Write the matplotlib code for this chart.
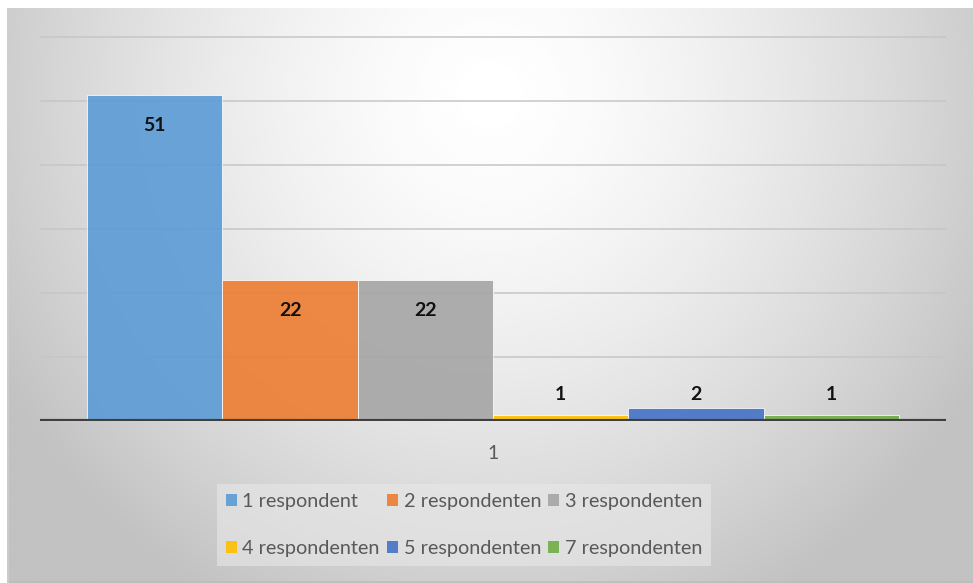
import numpy as np
import matplotlib
matplotlib.use("Agg")
import matplotlib.pyplot as plt
from matplotlib.patches import Patch

categories = ["1"]
series = ["1 respondent", "2 respondenten", "3 respondenten",
          "4 respondenten", "5 respondenten", "7 respondenten"]
values = [51, 22, 22, 1, 2, 1]
colors = ["#5B9BD5", "#ED7D31", "#A5A5A5", "#FFC000", "#4472C4", "#70AD47"]

plt.rcParams["font.family"] = ["Lato", "DejaVu Sans"]

W, H = 973, 583
fig = plt.figure(figsize=(W / 100, H / 100), dpi=100, facecolor="white")

# radial grey gradient background (Excel chart area style)
bg = fig.add_axes([7 / W, 0, 1 - 7 / W, 575 / H])
yy, xx = np.mgrid[0:1:300j, 0:1:500j]
r = np.sqrt(((xx - 0.5) / 0.55) ** 2 + ((yy - 0.15) / 0.95) ** 2)
grad = np.clip(1 - 0.22 * r ** 1.5, 0.76, 1)
bg.imshow(grad, cmap="gray", vmin=0, vmax=1, aspect="auto",
          extent=[0, 1, 1, 0], interpolation="bicubic")
bg.set_axis_off()
bg.plot([0, 1], [0.002, 0.002], color="#bdbdbd", lw=1.2, transform=bg.transAxes)
bg.plot([0.001, 0.001], [0, 1], color="#cfcfcf", lw=1.2, transform=bg.transAxes)

ax = fig.add_axes([40 / W, (H - 421) / H, 906 / W, 385 / H])
ax.set_facecolor("none")

n = len(values)
group = 0.896
bw = group / n
handles = []
for i, (lab, v, c) in enumerate(zip(series, values, colors)):
    x = -group / 2 + bw * (i + 0.5)
    ax.bar(x, v, width=bw, color=c, alpha=0.9, edgecolor="white",
           linewidth=0.6, zorder=3)
    ly = v - 4.8 if v > 5 else 4.1
    ax.text(x, ly, str(v), ha="center", va="center", fontsize=14,
            fontweight="bold", color="#111111", zorder=4)
    handles.append(Patch(facecolor=c, alpha=0.9, edgecolor="none", label=lab))

ax.set_xlim(-0.5, 0.5)
ax.set_ylim(0, 60.2)
ax.set_yticks(range(10, 61, 10))
ax.yaxis.grid(True, color="#c6c6c6", lw=1.1, zorder=0)
ax.tick_params(axis="y", left=False, labelleft=False)
ax.set_xticks([0])
ax.set_xticklabels(categories, fontsize=14, color="#595959")
ax.tick_params(axis="x", length=0, pad=17)
for s in ax.spines.values():
    s.set_visible(False)
ax.axhline(0, color="#3f3f3f", lw=3, zorder=5)

order = [0, 3, 1, 4, 2, 5]
leg = fig.legend([handles[k] for k in order], [series[k] for k in order],
                 ncol=3, loc="center", bbox_to_anchor=(464 / W, (H - 525) / H),
                 bbox_transform=fig.transFigure, fontsize=14.3,
                 handlelength=0.55, handleheight=0.55, handletextpad=0.3,
                 columnspacing=0.35, labelspacing=1.5, borderpad=0.45,
                 frameon=True, fancybox=False)
leg.get_frame().set_facecolor("#e8e8e8")
leg.get_frame().set_edgecolor("none")
leg.get_frame().set_alpha(0.6)
for t in leg.get_texts():
    t.set_color("#595959")

fig.savefig("out.png", dpi=100, facecolor="white")
